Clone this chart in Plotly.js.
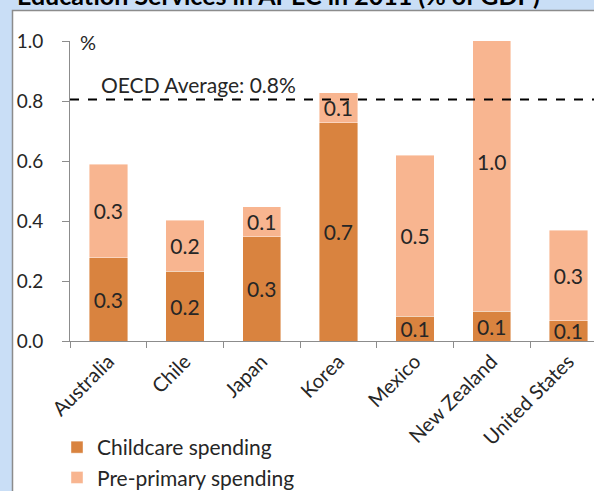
<!DOCTYPE html>
<html>
<head>
<meta charset="utf-8">
<script src="https://cdn.plot.ly/plotly-3.0.1.min.js"></script>
<style>
html,body{margin:0;padding:0;background:#c9def6;}
#chart{width:594px;height:491px;}
</style>
</head>
<body>
<div id="chart"></div>
<script>
const countries = ["Australia", "Chile", "Japan", "Korea", "Mexico", "New Zealand", "United States"];
const childcare = [0.277, 0.233, 0.348, 0.727, 0.083, 0.10, 0.067];
const prePrimary = [0.313, 0.17, 0.10, 0.10, 0.537, 1.0, 0.303];
const oecdAverage = 0.805;
const yTicks = [0, 0.2, 0.4, 0.6, 0.8, 1.0];
const yTickLabels = ["0.0", "0.2", "0.4", "0.6", "0.8", "1.0"];

const FONT = "Lato, 'Open Sans', sans-serif";
const TXT = "#262626";

const common = {
  type: "bar",
  x: countries,
  width: 0.5,
  texttemplate: "%{y:.1f}",
  textposition: "inside",
  insidetextanchor: "middle",
  constraintext: "none",
  insidetextfont: {family: FONT, size: 21, color: TXT},
  hoverinfo: "skip",
  marker: {line: {width: 0.7, color: "rgba(255,255,255,0.6)"}}
};

const data = [
  Object.assign({}, common, {name: "Childcare spending", y: childcare, legendgroup: "a",
    marker: Object.assign({}, common.marker, {color: "#d9833f"})}),
  Object.assign({}, common, {name: "Pre-primary spending", y: prePrimary, legendgroup: "b",
    marker: Object.assign({}, common.marker, {color: "#f8b590"})})
];

const W = 594, H = 491, L = 70, T = 41, B = 150;
const pw = W - L, ph = H - T - B;
function px(x){ return (x - L) / pw; }
function py(y){ return (H - B - y) / ph; }

const layout = {
  width: W, height: H,
  margin: {l: L, r: 0, t: T, b: B, pad: 0, autoexpand: false},
  paper_bgcolor: "#c9def6",
  plot_bgcolor: "rgba(0,0,0,0)",
  barmode: "stack",
  showlegend: true,
  font: {family: FONT, size: 19, color: TXT},
  xaxis: {
    type: "category",
    range: [-0.5, 6.334],
    showgrid: false,
    showline: true,
    linecolor: "#8c8c8c",
    linewidth: 1,
    ticks: "outside",
    tickson: "boundaries",
    ticklen: 6,
    tickcolor: "#8c8c8c",
    tickangle: -45,
    tickfont: {family: FONT, size: 20, color: TXT},
    zeroline: false,
    automargin: false,
    fixedrange: true
  },
  yaxis: {
    range: [0, 1.0],
    tickvals: yTicks,
    ticktext: yTickLabels,
    showgrid: false,
    showline: true,
    linecolor: "#8c8c8c",
    linewidth: 1,
    ticks: "outside",
    ticklen: 7,
    tickcolor: "#8c8c8c",
    ticklabelstandoff: 15,
    tickfont: {family: FONT, size: 19, color: TXT},
    zeroline: false,
    automargin: false,
    fixedrange: true
  },
  legend: {
    xref: "container", yref: "container",
    x: 57 / W, y: (H - 427) / H, xanchor: "left", yanchor: "top",
    orientation: "v",
    bgcolor: "rgba(0,0,0,0)",
    font: {family: FONT, size: 21, color: TXT},
    traceorder: "grouped",
    itemwidth: 30,
    tracegroupgap: 0
  },
  shapes: [
    {type: "rect", xref: "paper", yref: "paper", layer: "below",
     x0: px(12.5), x1: px(600), y0: py(10.5), y1: py(500),
     fillcolor: "#ffffff", line: {color: "#8c8c8c", width: 1.5}},
    {type: "line", xref: "paper", yref: "y", x0: 0, x1: 1,
     y0: oecdAverage, y1: oecdAverage, line: {color: "#000000", width: 2, dash: "dash"}}
  ],
  annotations: [
    {xref: "paper", yref: "paper", x: px(15), y: py(12), xanchor: "left", yanchor: "bottom",
     text: "<b>Education Services in APEC in 2011 (% of GDP)</b>", showarrow: false,
     font: {family: FONT, size: 25, color: "#000000"}},
    {xref: "paper", yref: "paper", x: px(78), y: py(42), xanchor: "left", yanchor: "middle",
     text: "%", showarrow: false, font: {family: FONT, size: 20, color: TXT}},
    {xref: "paper", yref: "y", x: px(99), y: oecdAverage, xanchor: "left", yanchor: "bottom",
     yshift: 1, text: "OECD Average: 0.8%", showarrow: false,
     font: {family: FONT, size: 21, color: TXT}}
  ]
};

Plotly.newPlot("chart", data, layout, {displayModeBar: false, staticPlot: true});
</script>
</body>
</html>
